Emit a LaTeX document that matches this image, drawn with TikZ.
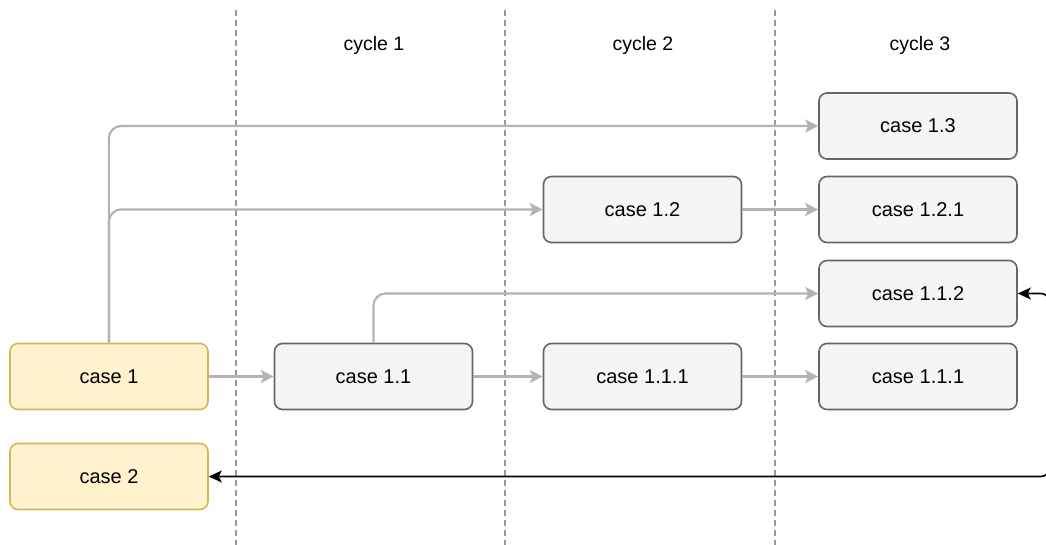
\documentclass[tikz,border=0pt]{standalone}
\usepackage{fontspec}
\setmainfont{Liberation Sans}
\usetikzlibrary{arrows.meta}
\definecolor{yfill}{HTML}{FFF2CC}
\definecolor{ydraw}{HTML}{D6B656}
\definecolor{gfill}{HTML}{F5F5F5}
\definecolor{gdraw}{HTML}{666666}
\definecolor{flow}{HTML}{B3B3B3}
\definecolor{sep}{HTML}{999999}
\tikzset{
  casebox/.style={draw=gdraw, fill=gfill, line width=1.6pt, rounded corners=8pt,
    minimum width=198pt, minimum height=66pt, inner sep=0pt, font=\fontsize{20}{23}\selectfont},
  rootbox/.style={casebox, draw=ydraw, fill=yfill},
  flowline/.style={draw=flow, line width=2.2pt, rounded corners=12pt,
    -{Stealth[length=13pt, width=13pt, inset=3pt]}},
  backline/.style={draw=black, line width=1.6pt, rounded corners=8pt,
    {Stealth[length=13pt, width=12pt, inset=3pt]}-{Stealth[length=13pt, width=12pt, inset=3pt]}},
  cyclesep/.style={draw=sep, line width=1.5pt, dash pattern=on 6pt off 4pt},
  cyclelabel/.style={font=\fontsize{19.5}{22}\selectfont},
}
\begin{document}
\begin{tikzpicture}[x=1pt, y=-1pt]
  \useasboundingbox (0,0) rectangle (1046,545);
  \begin{scope}
    \clip (0,0) rectangle (1046,545);

    % cycle separators
    \coordinate (s1a) at (236,10);  \coordinate (s1b) at (236,545);
    \coordinate (s2a) at (505,10);  \coordinate (s2b) at (505,545);
    \coordinate (s3a) at (775,10);  \coordinate (s3b) at (775,545);
    \draw[cyclesep] (s1a) -- (s1b);
    \draw[cyclesep] (s2a) -- (s2b);
    \draw[cyclesep] (s3a) -- (s3b);

    \node[cyclelabel] (cy1) at (374,45) {cycle 1};
    \node[cyclelabel] (cy2) at (643,45) {cycle 2};
    \node[cyclelabel] (cy3) at (920,45) {cycle 3};

    % cases
    \node[rootbox] (c1) at (109,376.5) {case 1};
    \node[rootbox] (c2) at (109,476.5) {case 2};
    \node[casebox] (c11) at (373.5,376.5) {case 1.1};
    \node[casebox] (c111a) at (642.5,376.5) {case 1.1.1};
    \node[casebox] (c111b) at (918,376.5) {case 1.1.1};
    \node[casebox] (c112) at (918,293.5) {case 1.1.2};
    \node[casebox] (c12) at (642.5,209.5) {case 1.2};
    \node[casebox] (c121) at (918,209.5) {case 1.2.1};
    \node[casebox] (c13) at (918,126) {case 1.3};

    % forward flow
    \draw[flowline] (c1) -- (c11);
    \draw[flowline] (c11) -- (c111a);
    \draw[flowline] (c111a) -- (c111b);
    \draw[flowline] (c12) -- (c121);
    \draw[flowline] (c1.north) |- (c12.west);
    \draw[flowline] (c1.north) |- (c13.west);
    \draw[flowline] (c11.north) |- (c112.west);

    % return path along the right edge
    \coordinate (rt) at (1049,293.5);
    \coordinate (rb) at (1049,476.5);
    \draw[backline] (c112.east) -- (rt) -- (rb) -- (c2.east);
  \end{scope}
\end{tikzpicture}
\end{document}
